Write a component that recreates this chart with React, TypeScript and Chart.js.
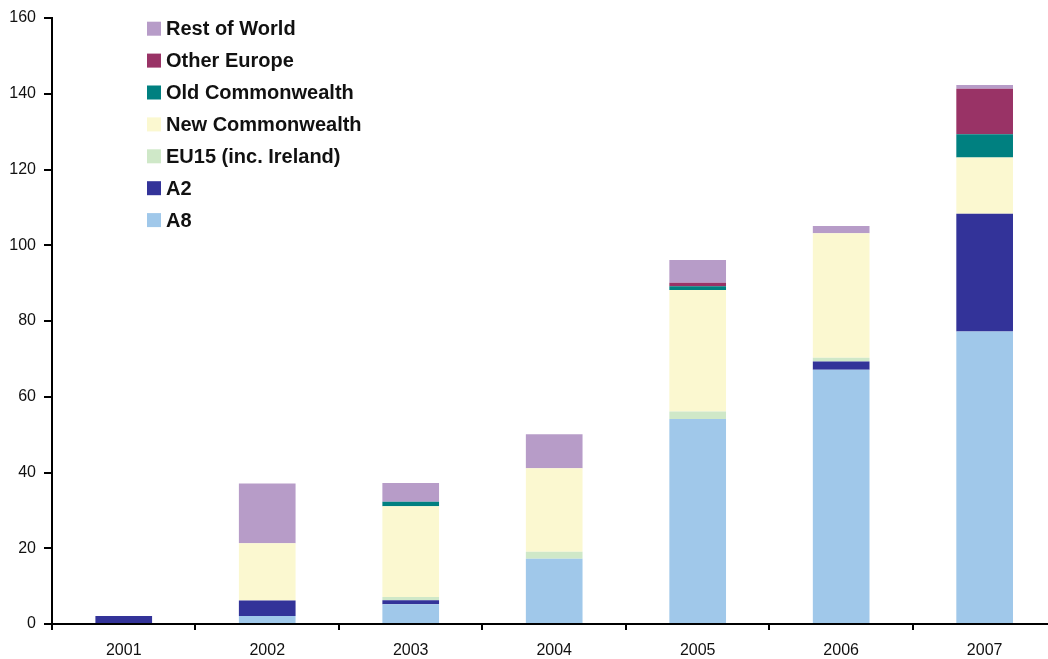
import React, { useEffect, useRef } from "react";
import { Chart, registerables } from "chart.js";

Chart.register(...registerables);

const years = ["2001", "2002", "2003", "2004", "2005", "2006", "2007"];
const a8 = [0, 2.1, 5.2, 17.2, 54.1, 67.1, 77.2];
const a2 = [2.1, 4.1, 1.1, 0, 0, 2.2, 31.1];
const eu15 = [0, 0, 0.8, 1.9, 2.0, 1.0, 0];
const newCommonwealth = [0, 15.1, 24.0, 22.0, 32.1, 32.9, 14.9];
const oldCommonwealth = [0, 0, 1.2, 0, 1.0, 0, 6.1];
const otherEurope = [0, 0, 0, 0, 0.9, 0, 12.0];
const restOfWorld = [0, 15.8, 4.9, 9.0, 6.0, 1.9, 1.0];

const seriesNames = [
  "A8",
  "A2",
  "EU15 (inc. Ireland)",
  "New Commonwealth",
  "Old Commonwealth",
  "Other Europe",
  "Rest of World",
];
const seriesValues = [a8, a2, eu15, newCommonwealth, oldCommonwealth, otherEurope, restOfWorld];
const seriesColors = ["#a0c8ea", "#333399", "#cfe8c8", "#fbf8d0", "#008080", "#993366", "#b79cc8"];

const FONT = "'Liberation Sans', Arial, sans-serif";

const legendPlugin = {
  id: "insideLegend",
  afterDraw(chart: any) {
    const ctx = chart.ctx;
    const ds = chart.data.datasets;
    ctx.save();
    ctx.font = `bold 20px ${FONT}`;
    ctx.textBaseline = "middle";
    ctx.textAlign = "left";
    const n = ds.length;
    for (let i = 0; i < n; i++) {
      const d = ds[n - 1 - i];
      const cy = 28.7 + i * 31.9;
      ctx.fillStyle = d.backgroundColor;
      ctx.fillRect(147, cy - 7, 14, 14);
      ctx.fillStyle = "#111111";
      ctx.fillText(d.label, 166, cy + 1);
    }
    ctx.restore();
  },
};

export default function App() {
  const ref = useRef<HTMLCanvasElement>(null);

  useEffect(() => {
    if (!ref.current) return;
    const chart = new Chart(ref.current, {
      type: "bar",
      data: {
        labels: years,
        datasets: seriesNames.map((name, i) => ({
          label: name,
          data: seriesValues[i],
          backgroundColor: seriesColors[i],
          borderWidth: 0,
          barPercentage: 0.395,
          categoryPercentage: 1,
        })),
      },
      options: {
        animation: false,
        responsive: false,
        devicePixelRatio: 1,
        layout: { padding: { top: 18, right: 3.6, bottom: 0, left: 0 } },
        plugins: {
          legend: { display: false },
          tooltip: { enabled: false },
        },
        scales: {
          x: {
            stacked: true,
            grid: {
              offset: true,
              drawOnChartArea: false,
              drawTicks: true,
              tickLength: 6,
              color: "#000000",
              lineWidth: 2,
            },
            border: { display: true, color: "#000000", width: 2 },
            ticks: {
              color: "#111111",
              font: { family: FONT, size: 16 },
              padding: 11,
              maxRotation: 0,
            },
            afterFit(scale: any) {
              scale.height = 35;
            },
          },
          y: {
            stacked: true,
            min: 0,
            max: 160,
            grid: {
              drawOnChartArea: false,
              drawTicks: true,
              tickLength: 8,
              color: "#000000",
              lineWidth: 2,
            },
            border: { display: true, color: "#000000", width: 2 },
            ticks: {
              stepSize: 20,
              color: "#111111",
              font: { family: FONT, size: 16 },
              padding: 8,
            },
            afterFit(scale: any) {
              scale.width = 52;
            },
          },
        },
      },
      plugins: [legendPlugin],
    });
    return () => chart.destroy();
  }, []);

  return (
    <div
      style={{
        position: "fixed",
        left: 0,
        top: 0,
        width: 1048,
        height: 659,
        overflow: "hidden",
        background: "#ffffff",
      }}
    >
      <canvas ref={ref} width={1060} height={659} style={{ display: "block" }} />
    </div>
  );
}
